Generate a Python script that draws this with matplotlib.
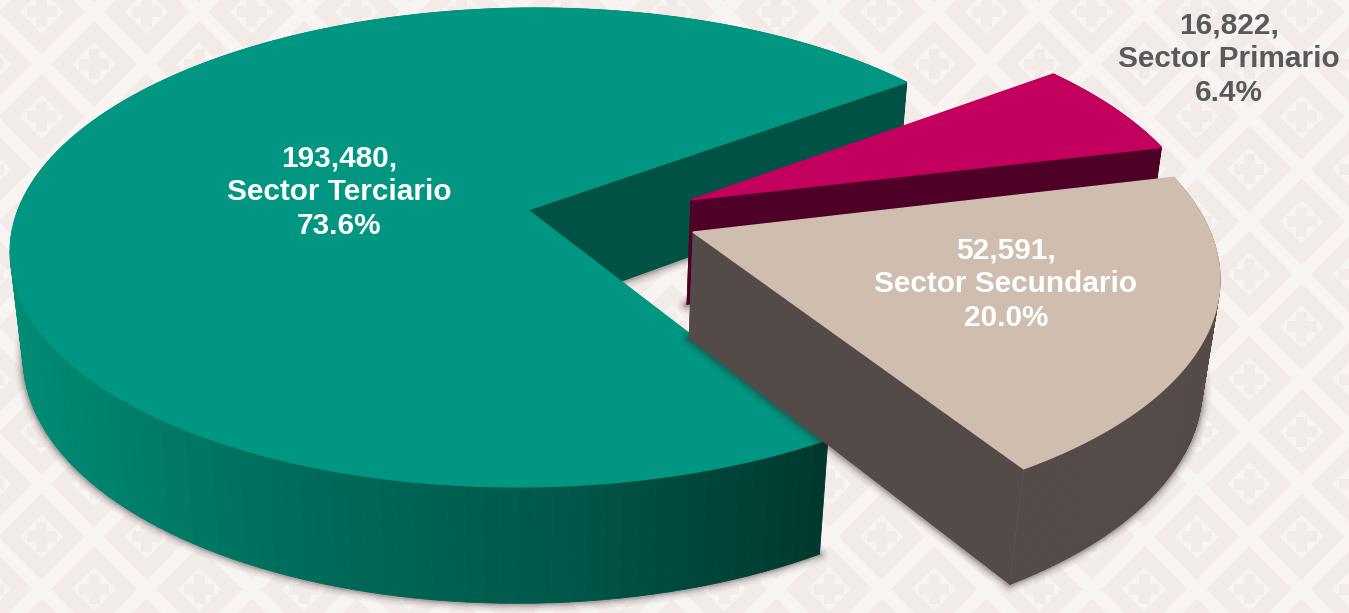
import numpy as np
import matplotlib
matplotlib.use("Agg")
import matplotlib.pyplot as plt
from matplotlib.collections import PolyCollection
from matplotlib.colors import to_rgb

# data, in pie order (counter-clockwise from the start angle)
sectors = ["Sector Terciario", "Sector Secundario", "Sector Primario"]
values = [193480, 52591, 16822]
percents = ["73.6%", "20.0%", "6.4%"]

top_colors = ["#009681", "#cfbdaf", "#c4005f"]
cut_colors = ["#005244", "#544a47", "#4e0026"]
label_colors = ["white", "white", "#595959"]
label_pos = [(339, 192), (1006, 284), (1229, 59)]
# how far each slice is pulled out, in pie radii
explode = [(0.0, 0.0), (0.32, -0.093), (0.32, 0.043)]

START_ANGLE = 36.7

# camera fitted to the picture
CX, CY = 528, 210
RX, RY = 510, 233.6
SKEW = 9
PERSP = 0.1566
DEPTH_Y = 108
DEPTH_W = 0.025

BAND = "#f8f4f1"
TILE = "#f2ebe7"


def project(u, v, h=0.0):
    w = 1 + PERSP * v + DEPTH_W * h
    return CX + (RX * u + SKEW * v) / w, CY + (-RY * v + DEPTH_Y * h) / w


def rim(a0, a1, offset, h=0.0, n=160):
    t = np.radians(np.linspace(a0, a1, n))
    return project(np.cos(t) + offset[0], np.sin(t) + offset[1], h)


def draw_background(ax):
    ax.add_patch(plt.Rectangle((0, 0), 1349, 613, color=BAND, zorder=0))
    step = 52.5
    for i in range(-2, 30):
        for j in range(-2, 15):
            if (i + j) % 2:
                continue
            x = 1301.7 - step * i
            y = 11.7 + step * j
            ax.fill([x - 43, x, x + 43, x], [y, y - 43, y, y + 43], color=TILE, lw=0, zorder=1)
            ax.fill([x - 22, x, x + 22, x], [y, y - 22, y, y + 22], color=BAND, lw=0, zorder=1)
            ax.fill([x - 15, x + 15, x + 15, x - 15], [y - 5.5, y - 5.5, y + 5.5, y + 5.5],
                    color=TILE, lw=0, zorder=1)
            ax.fill([x - 5.5, x + 5.5, x + 5.5, x - 5.5], [y - 15, y - 15, y + 15, y + 15],
                    color=TILE, lw=0, zorder=1)


def teal_wall_color(x):
    xs = [10, 300, 560, 825]
    stops = np.array([to_rgb("#008c75"), to_rgb("#006b5a"), to_rgb("#00584a"), to_rgb("#00382e")])
    return [np.interp(x, xs, stops[:, k]) for k in range(3)]


def draw_slice(ax, a0, a1, offset, top, cut, gradient, z):
    # soft shadow under the base
    bx, by = rim(a0, a1, offset, 1.0)
    ax_, ay_ = project(offset[0], offset[1], 1.0)
    for lw, alpha in zip([13, 10, 7, 5, 3], [0.04, 0.06, 0.08, 0.1, 0.14]):
        ax.plot(np.r_[ax_, bx, ax_], np.r_[ay_, by, ay_], color="#2e2522", lw=lw, alpha=alpha,
                solid_capstyle="round", solid_joinstyle="round", zorder=z)

    # outer wall, in thin strips
    tx, ty = rim(a0, a1, offset, 0.0)
    quads = [[(tx[k], ty[k]), (tx[k + 1], ty[k + 1]), (bx[k + 1], by[k + 1]), (bx[k], by[k])]
             for k in range(len(tx) - 1)]
    if gradient:
        cols = [teal_wall_color((tx[k] + tx[k + 1]) / 2) for k in range(len(tx) - 1)]
    else:
        cols = [cut] * len(quads)
    ax.add_collection(PolyCollection(quads, facecolors=cols, edgecolors=cols, linewidths=0.6, zorder=z + 0.1))

    # cut faces: the one at a0 only matters for the slices seen from the front
    px, py = project(offset[0], offset[1])
    for edge_i in (0, -1):
        if not gradient or edge_i == 0:
            ax.fill([px, tx[edge_i], bx[edge_i], ax_], [py, ty[edge_i], by[edge_i], ay_],
                    color=cut, lw=0, zorder=z + 0.2)

    # thin stroke so the back wall does not peek out round the rim
    ax.fill(np.r_[px, tx], np.r_[py, ty], color=top, lw=0.9, zorder=z + 0.3)


fig = plt.figure(figsize=(13.49, 6.13), dpi=100)
ax = fig.add_axes([0, 0, 1, 1])
ax.set_xlim(0, 1349)
ax.set_ylim(613, 0)
ax.axis("off")

draw_background(ax)

shares = np.array(values) / sum(values) * 360
edges = START_ANGLE + np.r_[0, np.cumsum(shares)]
# painter's order: back to front
for i, z in zip([0, 2, 1], [2, 3, 4]):
    draw_slice(ax, edges[i], edges[i + 1], explode[i], top_colors[i], cut_colors[i], i == 0, z)

for name, val, pct, col, pos in zip(sectors, values, percents, label_colors, label_pos):
    ax.text(pos[0], pos[1], f"{val:,},\n{name}\n{pct}", color=col, ha="center", va="center",
            family="Liberation Sans", weight="bold", fontsize=21.4, linespacing=1.27, zorder=10)

fig.savefig("out.png", dpi=100)
